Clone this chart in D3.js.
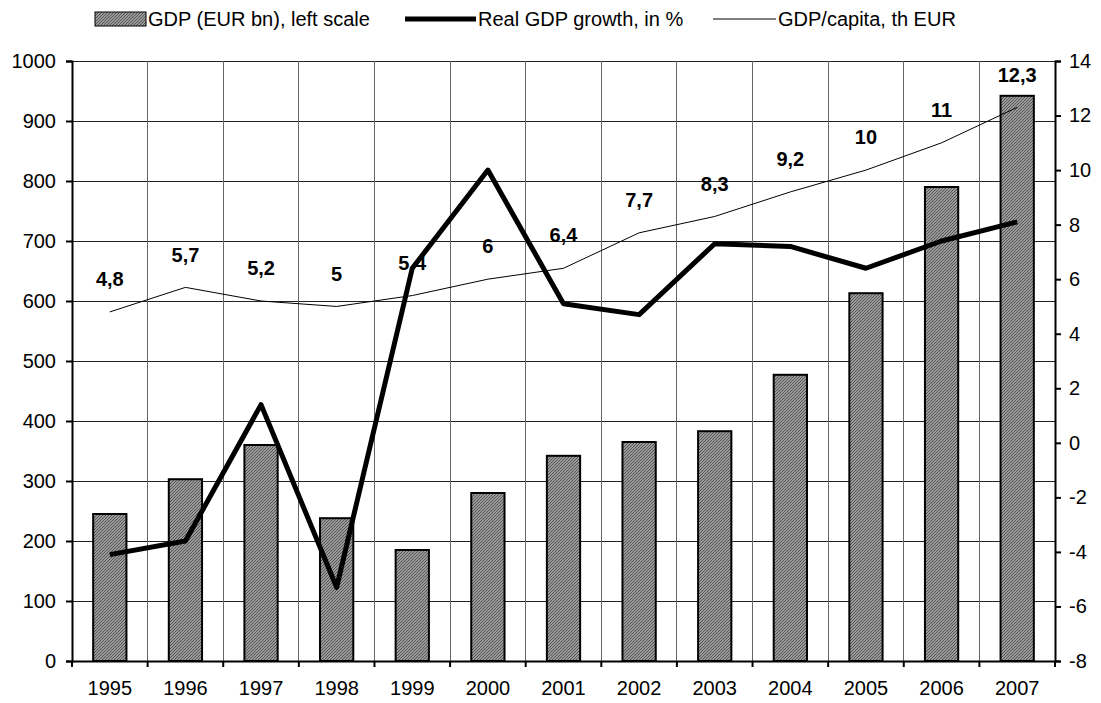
<!DOCTYPE html>
<html>
<head>
<meta charset="utf-8">
<script src="https://cdn.jsdelivr.net/npm/d3@7"></script>
<style>
  body { margin: 0; background: #fff; }
  svg { display: block; font-family: Arial, "Liberation Sans", sans-serif; }
</style>
</head>
<body>
<svg id="chart"></svg>
<script>
// data
const years = ["1995", "1996", "1997", "1998", "1999", "2000", "2001", "2002", "2003", "2004", "2005", "2006", "2007"];
const gdpBn = [245, 303, 360, 238, 185, 280, 342, 365, 383, 477, 613, 790, 942];
const realGrowth = [-4.1, -3.6, 1.4, -5.3, 6.4, 10.0, 5.1, 4.7, 7.3, 7.2, 6.4, 7.4, 8.1];
const gdpPerCapita = [4.8, 5.7, 5.2, 5, 5.4, 6, 6.4, 7.7, 8.3, 9.2, 10, 11, 12.3];
const leftTicks = d3.range(0, 1001, 100);
const rightTicks = d3.range(-8, 15, 2);

const width = 1101, height = 703;
const margin = { top: 61, right: 46, bottom: 42, left: 72 };

const svg = d3.select("#chart").attr("width", width).attr("height", height);

const x = d3.scaleBand()
  .domain(years)
  .range([margin.left, width - margin.right])
  .padding(0);

const yLeft = d3.scaleLinear().domain([0, 1000]).range([height - margin.bottom, margin.top]);
const yRight = d3.scaleLinear().domain([-8, 14]).range([height - margin.bottom, margin.top]);

// hatch pattern for bars
const defs = svg.append("defs");
const pat = defs.append("pattern")
  .attr("id", "hatch")
  .attr("patternUnits", "userSpaceOnUse")
  .attr("width", 3).attr("height", 3);
pat.append("rect").attr("width", 3).attr("height", 3).attr("fill", "#9a9a9a");
pat.append("path")
  .attr("d", "M-1,1 l2,-2 M0,3 l3,-3 M2,4 l2,-2")
  .attr("stroke", "#555").attr("stroke-width", 1);

// horizontal gridlines (left scale)
svg.append("g")
  .attr("shape-rendering", "crispEdges")
  .selectAll("line")
  .data(leftTicks.filter(d => d > 0))
  .join("line")
  .attr("x1", margin.left).attr("x2", width - margin.right)
  .attr("y1", d => yLeft(d)).attr("y2", d => yLeft(d))
  .attr("stroke", "#222").attr("stroke-width", 1);

// vertical gridlines between categories
svg.append("g")
  .attr("shape-rendering", "crispEdges")
  .selectAll("line")
  .data(years.slice(1))
  .join("line")
  .attr("x1", d => x(d)).attr("x2", d => x(d))
  .attr("y1", margin.top).attr("y2", height - margin.bottom)
  .attr("stroke", "#666").attr("stroke-width", 1);

// bars
const bw = x.bandwidth();
svg.append("g")
  .selectAll("rect")
  .data(years)
  .join("rect")
  .attr("x", d => x(d) + bw * 0.28)
  .attr("width", bw * 0.44)
  .attr("y", (d, i) => yLeft(gdpBn[i]))
  .attr("height", (d, i) => yLeft(0) - yLeft(gdpBn[i]))
  .attr("fill", "url(#hatch)")
  .attr("stroke", "#000").attr("stroke-width", 2);

// GDP per capita (thin line, right scale)
const line = d3.line()
  .x((d, i) => x(years[i]) + bw / 2)
  .y(d => yRight(d));

svg.append("path")
  .datum(gdpPerCapita)
  .attr("d", line)
  .attr("fill", "none")
  .attr("stroke", "#000").attr("stroke-width", 1);

// real GDP growth (thick line, right scale)
svg.append("path")
  .datum(realGrowth)
  .attr("d", line)
  .attr("fill", "none")
  .attr("stroke", "#000").attr("stroke-width", 5)
  .attr("stroke-linejoin", "round");

// data labels for GDP per capita
svg.append("g")
  .selectAll("text")
  .data(gdpPerCapita)
  .join("text")
  .attr("x", (d, i) => x(years[i]) + bw / 2)
  .attr("y", d => yRight(d) - 33)
  .attr("dy", "0.36em")
  .attr("text-anchor", "middle")
  .attr("font-size", 20)
  .attr("font-weight", "bold")
  .text(d => String(d).replace(".", ","));

// axes
const leftAxis = svg.append("g")
  .attr("transform", `translate(${margin.left},0)`)
  .call(d3.axisLeft(yLeft).tickValues(leftTicks).tickFormat(d => String(d)).tickSize(6).tickPadding(10));
const rightAxis = svg.append("g")
  .attr("transform", `translate(${width - margin.right},0)`)
  .call(d3.axisRight(yRight).tickValues(rightTicks).tickFormat(d => String(d)).tickSize(6).tickPadding(8));
const bottomAxis = svg.append("g")
  .attr("transform", `translate(0,${height - margin.bottom})`)
  .call(d3.axisBottom(x).tickSize(0).tickPadding(20));

// category boundary ticks on x axis
svg.append("g")
  .selectAll("line")
  .data(years.concat(["end"]))
  .join("line")
  .attr("x1", (d, i) => margin.left + i * bw).attr("x2", (d, i) => margin.left + i * bw)
  .attr("y1", height - margin.bottom).attr("y2", height - margin.bottom + 6)
  .attr("stroke", "#000").attr("stroke-width", 2);

[leftAxis, rightAxis, bottomAxis].forEach(a => {
  a.select(".domain").attr("stroke", "#000").attr("stroke-width", 2);
  a.selectAll(".tick line").attr("stroke", "#000").attr("stroke-width", 2);
  a.selectAll("text").attr("font-size", 20).attr("fill", "#000").attr("font-family", "Arial, 'Liberation Sans', sans-serif");
});

// legend
const legend = svg.append("g").attr("font-size", 20);
legend.append("rect")
  .attr("x", 95).attr("y", 12).attr("width", 51).attr("height", 14)
  .attr("fill", "url(#hatch)").attr("stroke", "#000").attr("stroke-width", 1);
legend.append("text").attr("x", 148).attr("y", 19).attr("dy", "0.36em").text("GDP (EUR bn), left scale");
legend.append("line")
  .attr("x1", 405).attr("x2", 476).attr("y1", 19).attr("y2", 19)
  .attr("stroke", "#000").attr("stroke-width", 5);
legend.append("text").attr("x", 478).attr("y", 19).attr("dy", "0.36em").text("Real GDP growth, in %");
legend.append("line")
  .attr("x1", 713).attr("x2", 776).attr("y1", 19).attr("y2", 19)
  .attr("stroke", "#000").attr("stroke-width", 1);
legend.append("text").attr("x", 778).attr("y", 19).attr("dy", "0.36em").text("GDP/capita, th EUR");
</script>
</body>
</html>
